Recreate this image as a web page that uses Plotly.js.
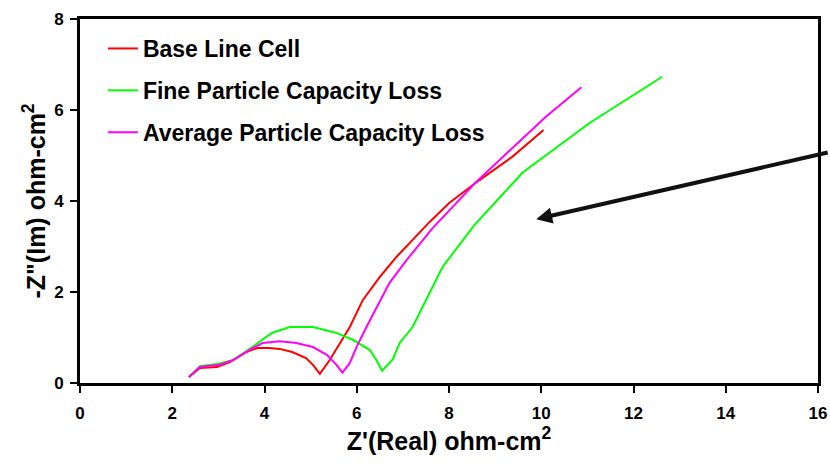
<!DOCTYPE html>
<html>
<head>
<meta charset="utf-8">
<script src="https://cdn.plot.ly/plotly-3.0.1.min.js"></script>
<style>html,body{margin:0;padding:0;background:#fff;}#chart{width:830px;height:469px;}</style>
</head>
<body>
<div id="chart"></div>
<script>
// Base Line Cell
const baseX = [2.36, 2.6, 2.97, 3.25, 3.6, 3.85, 4.1, 4.33, 4.6, 4.9, 5.05, 5.2, 5.41, 5.63, 5.85, 6.13, 6.5, 6.86, 7.21, 7.58, 8.01, 8.66, 9.37, 10.05];
const baseY = [0.13, 0.33, 0.35, 0.46, 0.68, 0.77, 0.77, 0.75, 0.68, 0.55, 0.40, 0.20, 0.50, 0.88, 1.23, 1.82, 2.33, 2.77, 3.14, 3.54, 3.96, 4.46, 4.97, 5.56];
// Fine Particle Capacity Loss
const fineX = [2.36, 2.6, 2.97, 3.31, 3.75, 4.16, 4.55, 5.05, 5.56, 5.91, 6.28, 6.43, 6.55, 6.78, 6.93, 7.21, 7.86, 8.55, 9.59, 11.04, 12.62];
const fineY = [0.13, 0.37, 0.42, 0.50, 0.80, 1.10, 1.23, 1.23, 1.10, 0.95, 0.73, 0.50, 0.27, 0.52, 0.88, 1.23, 2.55, 3.47, 4.62, 5.71, 6.73];
// Average Particle Capacity Loss
const avgX = [2.36, 2.6, 3.03, 3.31, 3.68, 3.96, 4.33, 4.69, 5.05, 5.35, 5.56, 5.69, 5.85, 6.0, 6.21, 6.43, 6.71, 7.08, 7.64, 8.08, 8.59, 9.2, 10.1, 10.87];
const avgY = [0.13, 0.35, 0.40, 0.50, 0.73, 0.88, 0.92, 0.88, 0.79, 0.62, 0.40, 0.23, 0.44, 0.80, 1.23, 1.67, 2.20, 2.70, 3.40, 3.87, 4.42, 5.00, 5.85, 6.50];

const seriesNames = ["Base Line Cell", "Fine Particle Capacity Loss", "Average Particle Capacity Loss"];
const xTicks = [0, 2, 4, 6, 8, 10, 12, 14, 16];
const yTicks = [0, 2, 4, 6, 8];

const FONT = "Arial, 'Liberation Sans', sans-serif";
const b = s => "<b>" + s + "</b>";

const traces = [
  {x: baseX, y: baseY, name: b(seriesNames[0]), mode: "lines", line: {color: "#ff0000", width: 2}, legendgroup: "a"},
  {x: fineX, y: fineY, name: b(seriesNames[1]), mode: "lines", line: {color: "#00ff00", width: 2}, legendgroup: "b"},
  {x: avgX, y: avgY, name: b(seriesNames[2]), mode: "lines", line: {color: "#ff00ff", width: 2}, legendgroup: "c"}
];

const tickFont = {family: FONT, size: 17, color: "#000", weight: 700};

const layout = {
  width: 830, height: 469,
  margin: {l: 80, r: 12, t: 19, b: 86},
  paper_bgcolor: "#ffffff",
  plot_bgcolor: "#ffffff",
  font: {family: FONT, color: "#000", size: 17},
  showlegend: true,
  legend: {
    x: 0.031, y: 0.978, xanchor: "left", yanchor: "top",
    bgcolor: "rgba(0,0,0,0)",
    font: {family: FONT, size: 23, color: "#000"},
    tracegroupgap: 9,
    itemwidth: 30
  },
  xaxis: {
    range: [0, 16], tickmode: "array", tickvals: xTicks, ticktext: xTicks.map(v => b(v)),
    showgrid: false, zeroline: false,
    showline: true, linecolor: "#000", linewidth: 3, mirror: true,
    ticks: "outside", ticklen: 7, tickwidth: 2, tickcolor: "#000",
    ticklabelstandoff: 6,
    tickfont: tickFont,
    title: {text: b("Z'(Real) ohm-cm<sup>2</sup>"), font: {family: FONT, size: 25, color: "#000"}, standoff: 10}
  },
  yaxis: {
    range: [0, 8], tickmode: "array", tickvals: yTicks, ticktext: yTicks.map(v => b(v)),
    showgrid: false, zeroline: false,
    showline: true, linecolor: "#000", linewidth: 3, mirror: true,
    ticks: "outside", ticklen: 7, tickwidth: 2, tickcolor: "#000",
    ticklabelstandoff: 3,
    tickfont: tickFont,
    title: {text: b("-Z\"(Im) ohm-cm<sup>2</sup>"), font: {family: FONT, size: 25, color: "#000"}, standoff: 2}
  },
  annotations: [{
    x: 9.89, y: 3.6, xref: "x", yref: "y",
    ax: 293, ay: -67, axref: "pixel", ayref: "pixel",
    showarrow: true, arrowhead: 2, arrowsize: 0.8, arrowwidth: 4, arrowcolor: "#111",
    text: ""
  }]
};

Plotly.newPlot("chart", traces, layout, {displayModeBar: false, staticPlot: true});
</script>
</body>
</html>
